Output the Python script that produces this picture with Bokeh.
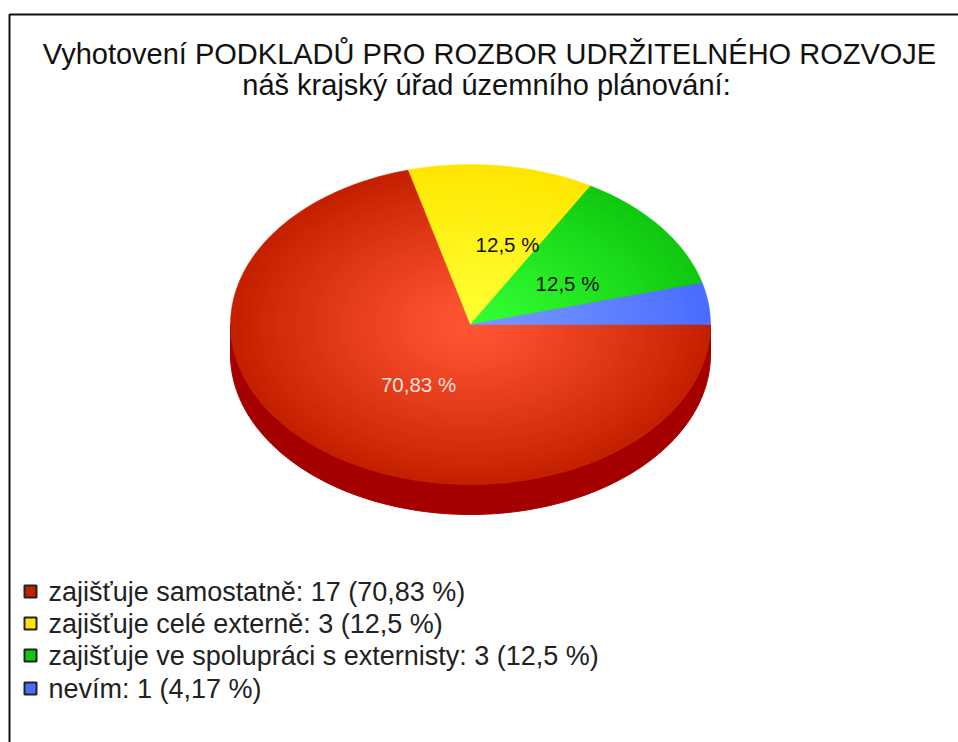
import numpy as np
from bokeh.plotting import figure
from bokeh.models import Range1d
from bokeh.core.properties import value
from bokeh.embed import file_html
from bokeh.resources import INLINE

title_lines = ["Vyhotovení PODKLADŮ PRO ROZBOR UDRŽITELNÉHO ROZVOJE",
               "náš krajský úřad územního plánování:"]
categories = ["zajišťuje samostatně", "zajišťuje celé externě",
              "zajišťuje ve spolupráci s externisty", "nevím"]
counts = [17, 3, 3, 1]
percent_labels = ["70,83 %", "12,5 %", "12,5 %", "4,17 %"]
edge_colors = ["#c42000", "#ffe600", "#10c810", "#4a6cff"]
center_colors = ["#ff5533", "#ffff33", "#33ff33", "#7799ff"]
side_color = "#a50000"
FONT = "Liberation Sans"

W, H = 958, 742
p = figure(width=W, height=H, output_backend="svg", toolbar_location=None,
           x_range=Range1d(0, W), y_range=Range1d(H, 0),
           min_border=0, outline_line_color=None, background_fill_color="white",
           border_fill_color="white")
p.axis.visible = False
p.grid.visible = False

# frame
p.line([9, 9, 958], [742, 14, 14], line_color="#111111", line_width=2)

cx, cy, rx, ry, depth = 470, 324, 240, 160, 30

# starting at 3 o'clock, going clockwise
fractions = np.array(counts) / sum(counts)
bounds = np.concatenate([[0], np.cumsum(fractions)]) * 2 * np.pi


def hex2rgb(c):
    return np.array([int(c[i:i + 2], 16) for i in (1, 3, 5)], float)


def mix(a, b, t):
    v = hex2rgb(a) * (1 - t) + hex2rgb(b) * t
    return "#%02x%02x%02x" % tuple(int(round(x)) for x in v)


# side wall
t = np.linspace(0, np.pi, 181)
sx = np.concatenate([cx + rx * np.cos(t), cx + rx * np.cos(t[::-1])])
sy = np.concatenate([cy + ry * np.sin(t), cy + depth + ry * np.sin(t[::-1])])
p.patch(sx, sy, fill_color=side_color, line_color=side_color, line_width=1)

# top face: shaded sectors painted from the rim inwards
xs, ys, fills = [], [], []
N = 48
for k in range(N):
    s = 1 - k / N
    for i in range(len(counts)):
        a = np.linspace(bounds[i], bounds[i + 1], max(6, int((bounds[i + 1] - bounds[i]) * 60)))
        xs.append(np.concatenate([[cx], cx + rx * s * np.cos(a)]).tolist())
        ys.append(np.concatenate([[cy], cy + ry * s * np.sin(a)]).tolist())
        fills.append(mix(center_colors[i], edge_colors[i], s ** 1.2))
p.patches(xs, ys, fill_color=fills, line_color=fills, line_width=0.5)

# value labels
p.text([418, 507, 567], [384, 244, 283], text=percent_labels[:3],
       text_font=value(FONT), text_font_size="20.5px", text_align="center",
       text_baseline="alphabetic", text_color=["#f6e0da", "#111100", "#001100"])

# title
p.text([489, 486], [53, 84], text=title_lines, text_font=value(FONT),
       text_font_size="29px", text_align="center", text_baseline="alphabetic",
       text_color="#111111")

# legend
leg_y = [591, 623, 655, 688]
p.rect([30] * 4, leg_y, width=12, height=12, fill_color=edge_colors,
       line_color="#222222", line_width=2)
legend_text = [f"{c}: {n} ({q})" for c, n, q in zip(categories, counts, percent_labels)]
p.text([48] * 4, [y for y in leg_y], text=legend_text, text_font=value(FONT),
       text_font_size="27px", text_align="left", text_baseline="alphabetic",
       text_color="#222222")

open("out.html", "w").write(file_html(p, INLINE))
